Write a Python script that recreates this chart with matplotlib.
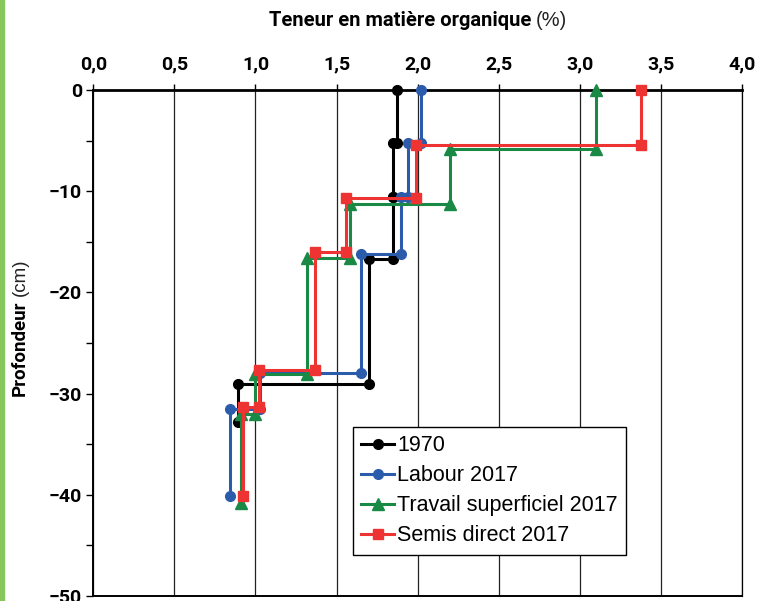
import matplotlib
matplotlib.use("Agg")
import matplotlib.pyplot as plt
from matplotlib.patches import Rectangle
from matplotlib.ticker import MultipleLocator, FuncFormatter

# layer boundaries (cm, negative = depth) and organic matter per layer (%)
series_names = ["1970", "Labour 2017", "Travail superficiel 2017", "Semis direct 2017"]
depths_1970 = [0, -5.2, -10.6, -16.7, -29.1, -32.8]
om_1970 = [1.87, 1.85, 1.85, 1.70, 0.89]
depths_labour = [0, -5.2, -10.6, -16.2, -28.0, -31.5, -40.1]
om_labour = [2.02, 1.94, 1.90, 1.65, 1.03, 0.84]
depths_travail = [0, -5.8, -11.3, -16.6, -28.1, -32.0, -40.8]
om_travail = [3.10, 2.20, 1.58, 1.32, 1.00, 0.91]
depths_semis = [0, -5.4, -10.7, -16.0, -27.7, -31.3, -40.1]
om_semis = [3.38, 1.99, 1.56, 1.37, 1.02, 0.92]

x_ticks = [0, 0.5, 1.0, 1.5, 2.0, 2.5, 3.0, 3.5, 4.0]
y_ticks = [0, -10, -20, -30, -40, -50]

BOLD = ["Roboto", "DejaVu Sans"]
LIGHT = ["Liberation Sans", "DejaVu Sans"]


def profile(bounds, values):
    xs, ys = [], []
    for i, v in enumerate(values):
        xs += [v, v]
        ys += [bounds[i], bounds[i + 1]]
    return xs, ys


W, H = 757, 601
fig = plt.figure(figsize=(W / 100, H / 100), dpi=100)
ax = fig.add_axes([93.3 / W, 1 - 596 / H, (742 - 93.3) / W, (596 - 90) / H])

fig.patches.append(Rectangle((0, 0), 4 / W, 1, transform=fig.transFigure,
                             color="#86c65a", zorder=0))

styles = [
    (depths_1970, om_1970, "#000000", "o", 7),
    (depths_labour, om_labour, "#2b5cab", "o", 7),
    (depths_travail, om_travail, "#198a45", "^", 8),
    (depths_semis, om_semis, "#ee3333", "s", 6.5),
]
for name, (d, v, c, m, ms) in zip(series_names, styles):
    xs, ys = profile(d, v)
    ax.plot(xs, ys, color=c, lw=2.2, marker=m, ms=ms, label=name,
            clip_on=False, zorder=3)

ax.set_xlim(0, 4)
ax.set_ylim(-50, 0)
ax.xaxis.tick_top()
ax.set_xticks(x_ticks)
ax.set_yticks(y_ticks)
ax.yaxis.set_minor_locator(MultipleLocator(5))
ax.xaxis.set_major_formatter(FuncFormatter(lambda v, p: f"{v:.1f}".replace(".", ",")))
ax.xaxis.grid(True, color="#222222", lw=0.9)
ax.set_axisbelow(True)

ax.tick_params(axis="x", direction="out", length=4, width=1, pad=8, colors="black")
ax.tick_params(axis="y", which="both", direction="out", length=5, width=1, pad=3)
for lab in ax.get_xticklabels() + ax.get_yticklabels():
    lab.set_fontfamily(BOLD)
    lab.set_fontweight("bold")
    lab.set_fontsize(14)

ax.spines["top"].set_linewidth(2)
ax.spines["left"].set_linewidth(1.4)
ax.spines["bottom"].set_linewidth(1.4)
ax.spines["right"].set_linewidth(0.9)

# axis titles: bold words followed by a light unit, placed side by side
renderer = fig.canvas.get_renderer()
t1 = fig.text(0, 1 - 21 / H, "Teneur en matière organique", ha="left", va="center",
              fontsize=14.5, fontweight="bold", family=BOLD)
t2 = fig.text(0, 1 - 21 / H, "(%)", ha="left", va="center",
              fontsize=14.5, family=LIGHT, color="#222222")
w1 = t1.get_window_extent(renderer).width
w2 = t2.get_window_extent(renderer).width
x0 = 418 - (w1 + 5 + w2) / 2
t1.set_x(x0 / W)
t2.set_x((x0 + w1 + 5) / W)

t3 = fig.text(20 / W, 0, "Profondeur", ha="left", va="center", rotation=90,
              rotation_mode="anchor", fontsize=13.5, fontweight="bold", family=BOLD)
t4 = fig.text(20 / W, 0, "(cm)", ha="left", va="center", rotation=90,
              rotation_mode="anchor", fontsize=13.5, family=LIGHT, color="#222222")
h3 = t3.get_window_extent(renderer).height
h4 = t4.get_window_extent(renderer).height
y0 = (601 - 327) - (h3 + 5 + h4) / 2
t3.set_y(y0 / H)
t4.set_y((y0 + h3 + 5) / H)

leg = ax.legend(loc="lower left", bbox_to_anchor=(0.400, 0.081), borderaxespad=0,
                prop={"family": LIGHT, "size": 15.5}, handlelength=1.5,
                handletextpad=0.15, labelspacing=0.42, borderpad=0.4,
                fancybox=False, framealpha=1, edgecolor="black")
leg.get_frame().set_linewidth(1)
leg.set_zorder(5)

fig.savefig("out.png", dpi=100)
